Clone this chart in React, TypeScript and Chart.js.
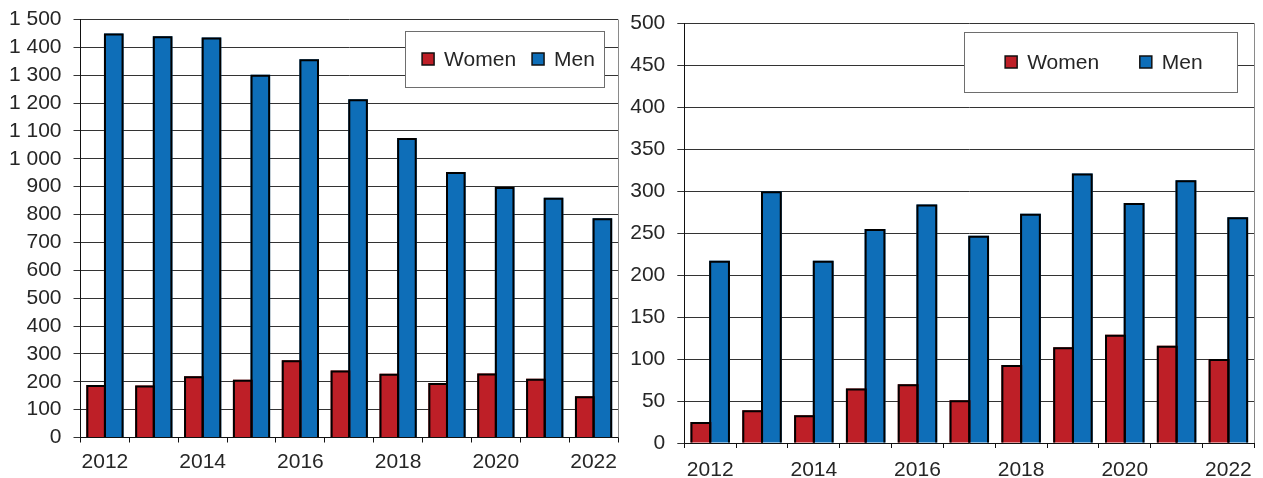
import React, { useEffect, useRef } from "react";
import { Chart, registerables } from "chart.js";

Chart.register(...registerables);

const years = ["2012", "2013", "2014", "2015", "2016", "2017", "2018", "2019", "2020", "2021", "2022"];
const seriesNames = ["Women", "Men"];

const leftWomen = [188, 187, 220, 207, 277, 240, 229, 196, 230, 211, 148];
const leftMen = [1450, 1440, 1435, 1302, 1357, 1214, 1075, 953, 899, 860, 787];

const rightWomen = [25, 39, 33, 65, 70, 51, 93, 114, 129, 116, 100];
const rightMen = [217, 300, 217, 255, 284, 247, 273, 321, 286, 313, 269];

const leftYMax = 1500;
const leftYStep = 100;
const rightYMax = 500;
const rightYStep = 50;

const RED = "#BE1F27";
const BLUE = "#0E6EB8";
const FONT = '"Liberation Sans", Arial, sans-serif';
const TEXT = "#262626";

// Outline each bar (top, left, right) using the bar elements' own geometry.
const barOutline = {
  id: "barOutline",
  afterDatasetsDraw(chart: any) {
    const { ctx } = chart;
    ctx.save();
    ctx.strokeStyle = "#000";
    ctx.lineWidth = 2;
    ctx.lineJoin = "miter";
    chart.data.datasets.forEach((_ds: any, di: number) => {
      const meta = chart.getDatasetMeta(di);
      meta.data.forEach((bar: any) => {
        const { x, y, base, width } = bar.getProps(["x", "y", "base", "width"], true);
        const l = x - width / 2 + 1;
        const r = x + width / 2 - 1;
        const t = y + 1;
        ctx.beginPath();
        ctx.moveTo(l, base);
        ctx.lineTo(l, t);
        ctx.lineTo(r, t);
        ctx.lineTo(r, base);
        ctx.stroke();
      });
    });
    ctx.restore();
  },
};

const boxLegend = {
  id: "boxLegend",
  afterDraw(chart: any, _args: any, opts: any) {
    const { ctx, chartArea: a } = chart;
    ctx.save();
    ctx.strokeStyle = "#8a8a8a";
    ctx.lineWidth = 1;
    ctx.beginPath();
    ctx.moveTo(Math.round(a.right) + 0.5, a.top);
    ctx.lineTo(Math.round(a.right) + 0.5, a.bottom);
    ctx.stroke();
    const w = opts.width;
    const h = opts.height;
    const bx = Math.round(a.right - opts.offsetRight - w);
    const by = Math.round(a.top + opts.offsetTop);
    ctx.fillStyle = "#fff";
    ctx.fillRect(bx, by, w, h);
    ctx.strokeStyle = "#6e6e6e";
    ctx.strokeRect(bx + 0.5, by + 0.5, w, h);
    ctx.font = `21px ${FONT}`;
    ctx.textBaseline = "middle";
    ctx.textAlign = "left";
    const sq = 12;
    const tg = 22;
    const items = chart.data.datasets.map((ds: any) => ({
      label: ds.label,
      color: ds.backgroundColor,
      w: tg + ctx.measureText(ds.label).width,
    }));
    const total = items.reduce((s: number, it: any) => s + it.w, 0) + opts.gap * (items.length - 1);
    let x = bx + (w - total) / 2 + opts.shift;
    const cy = by + h / 2;
    for (const it of items) {
      ctx.fillStyle = it.color;
      ctx.fillRect(x, cy - sq / 2, sq, sq);
      ctx.strokeStyle = "#111";
      ctx.lineWidth = 1.5;
      ctx.strokeRect(x, cy - sq / 2, sq, sq);
      ctx.fillStyle = TEXT;
      ctx.fillText(it.label, x + tg, cy + 1);
      x += it.w + opts.gap;
    }
    ctx.restore();
  },
};

function makeConfig(
  women: number[],
  men: number[],
  yMax: number,
  yStep: number,
  cfg: { yWidth: number; xHeight: number; padTop: number; padRight: number; xPad: number; legend: any }
): any {
  const barStyle = {
    borderWidth: 0,
    barPercentage: 1.11,
    categoryPercentage: 0.722,
  };
  return {
    type: "bar",
    data: {
      labels: years,
      datasets: [
        { label: seriesNames[0], data: women, backgroundColor: RED, ...barStyle },
        { label: seriesNames[1], data: men, backgroundColor: BLUE, ...barStyle },
      ],
    },
    options: {
      responsive: false,
      animation: false,
      devicePixelRatio: 1,
      layout: { padding: { top: cfg.padTop, right: cfg.padRight, left: 0, bottom: 0 } },
      plugins: {
        legend: { display: false },
        tooltip: { enabled: false },
        boxLegend: cfg.legend,
      },
      scales: {
        x: {
          type: "category",
          grid: {
            offset: true,
            drawOnChartArea: false,
            drawTicks: true,
            tickLength: 5,
            color: "#111",
          },
          border: { display: true, color: "#111", width: 1 },
          ticks: {
            autoSkip: false,
            maxRotation: 0,
            minRotation: 0,
            padding: cfg.xPad,
            color: TEXT,
            font: { family: FONT, size: 21 },
            callback: (_v: any, i: number) => (i % 2 === 0 ? years[i] : ""),
          },
          afterFit: (s: any) => {
            s.height = cfg.xHeight;
            s.paddingLeft = 0;
            s.paddingRight = 0;
          },
        },
        y: {
          min: 0,
          max: yMax,
          grid: { color: "#333", lineWidth: 1, drawTicks: true, tickLength: 7 },
          border: { display: true, color: "#111", width: 1 },
          ticks: {
            stepSize: yStep,
            autoSkip: false,
            padding: 12,
            color: TEXT,
            font: { family: FONT, size: 21 },
            callback: (v: any) => String(v).replace(/\B(?=(\d{3})+(?!\d))/g, " "),
          },
          afterFit: (s: any) => {
            s.width = cfg.yWidth;
            s.paddingTop = 0;
            s.paddingBottom = 0;
          },
        },
      },
    },
    plugins: [barOutline, boxLegend],
  };
}

function BarChart(props: { width: number; height: number; config: any }) {
  const ref = useRef<HTMLCanvasElement | null>(null);
  useEffect(() => {
    if (!ref.current) return;
    const chart = new Chart(ref.current, props.config);
    return () => chart.destroy();
  }, []);
  return (
    <canvas
      ref={ref}
      width={props.width}
      height={props.height}
      style={{ display: "block", width: props.width, height: props.height }}
    />
  );
}

export default function App() {
  const leftCfg = makeConfig(leftWomen, leftMen, leftYMax, leftYStep, {
    yWidth: 80.5,
    xHeight: 40.5,
    padTop: 19.5,
    padRight: 10,
    xPad: 7,
    legend: { width: 199, height: 56, offsetTop: 11.5, offsetRight: 14, gap: 16, shift: 4 },
  });
  const rightCfg = makeConfig(rightWomen, rightMen, rightYMax, rightYStep, {
    yWidth: 56.3,
    xHeight: 35,
    padTop: 23.3,
    padRight: 8.7,
    xPad: 10,
    legend: { width: 273, height: 60, offsetTop: 9, offsetRight: 17.5, gap: 40.7, shift: 3.4 },
  });
  return (
    <div
      style={{
        position: "absolute",
        left: 0,
        top: 0,
        width: 1263,
        height: 478,
        display: "flex",
        background: "#fff",
      }}
    >
      <BarChart width={628} height={478} config={leftCfg} />
      <BarChart width={635} height={478} config={rightCfg} />
    </div>
  );
}
